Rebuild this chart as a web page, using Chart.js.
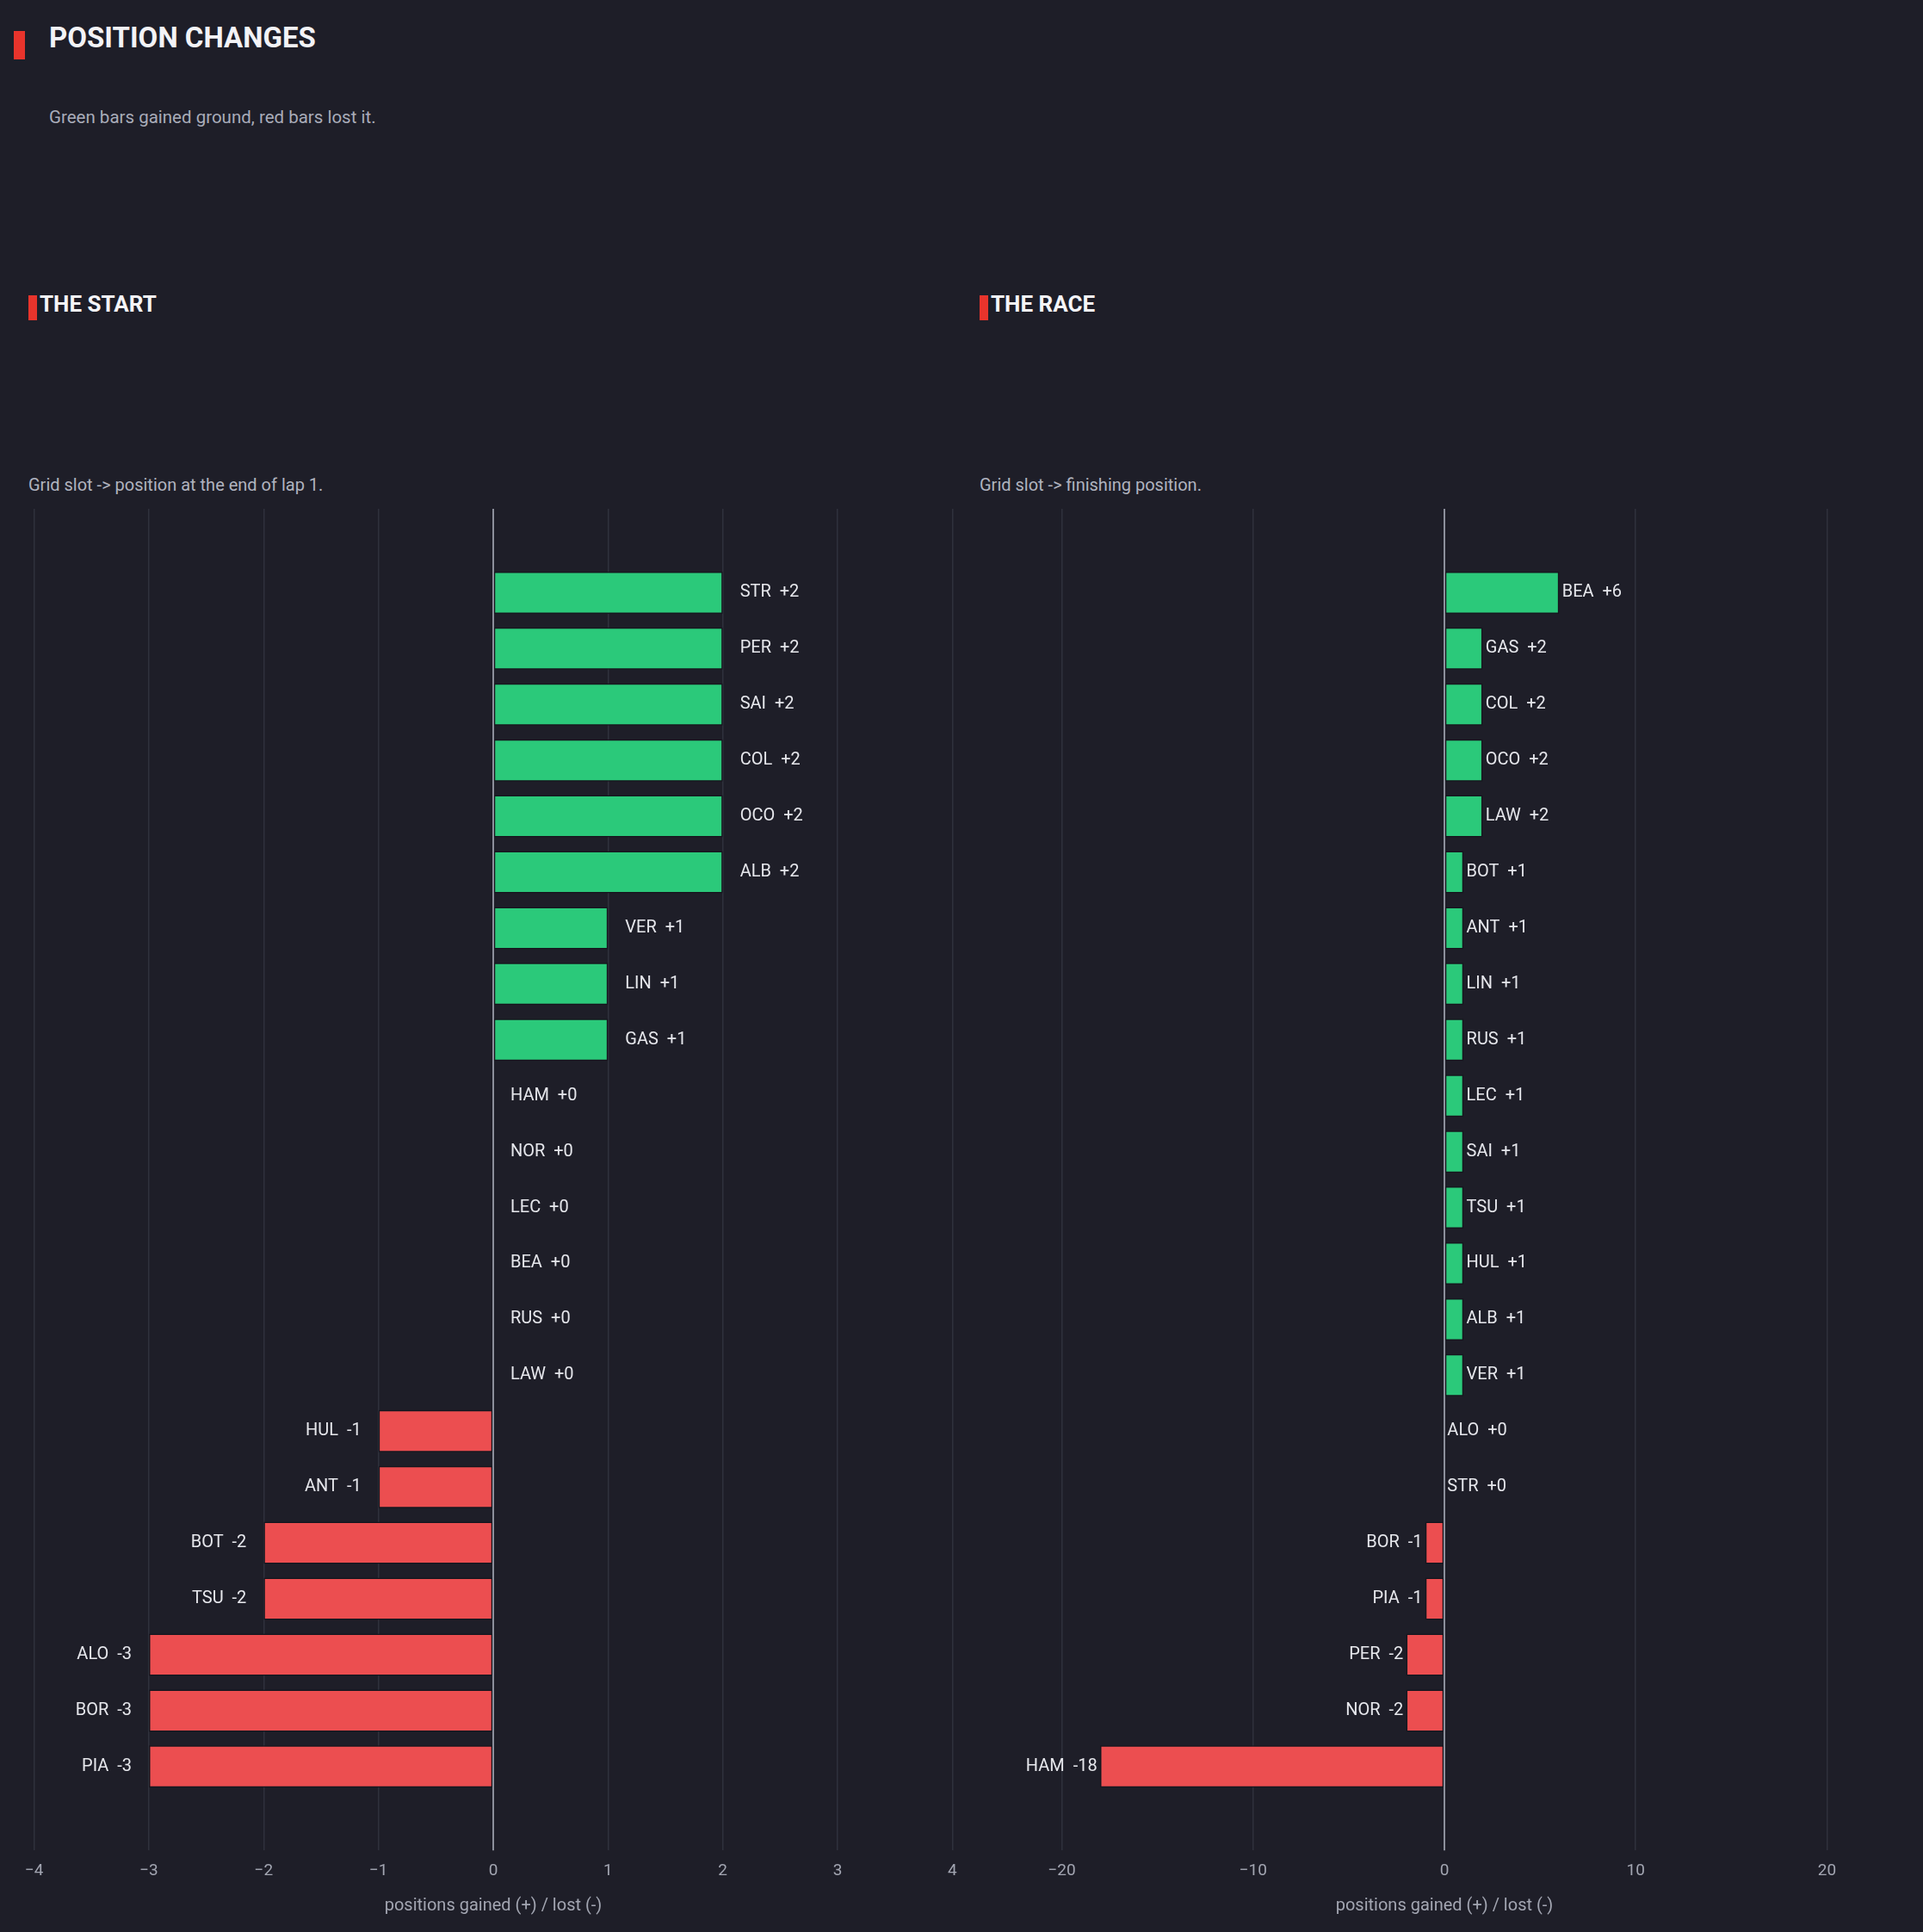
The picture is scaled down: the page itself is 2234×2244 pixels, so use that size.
<!DOCTYPE html>
<html>
<head>
<meta charset="utf-8">
<script src="https://cdn.jsdelivr.net/npm/chart.js@4.4.1/dist/chart.umd.min.js"></script>
<style>
  html, body { margin: 0; padding: 0; }
  body {
    width: 2234px; height: 2244px; overflow: hidden; position: relative;
    background: #1e1e28; font-family: Roboto, "Noto Sans", sans-serif;
  }
  .abs { position: absolute; white-space: nowrap; }
  .mark { position: absolute; background: #e8342c; }
  #title { left: 57px; top: 27px; font-size: 33px; line-height: 33px; font-weight: 700; color: #f3f3f6; }
  #subtitle { left: 57px; top: 126px; font-size: 20.5px; line-height: 20px; color: #a9acb9; }
  .head { font-size: 26px; line-height: 26px; font-weight: 700; color: #f5f5f8; top: 340px; }
  .note { font-size: 20px; line-height: 20px; color: #b0b3bf; top: 553px; }
  .box { position: absolute; top: 591px; width: 1136px; height: 1637px; }
</style>
</head>
<body>
<div class="mark" style="left:16px;top:36px;width:13px;height:33px"></div>
<div id="title" class="abs">POSITION CHANGES</div>
<div id="subtitle" class="abs">Green bars gained ground, red bars lost it.</div>

<div class="mark" style="left:33px;top:343px;width:10px;height:29px"></div>
<div class="abs head" style="left:46px">THE START</div>
<div class="abs note" style="left:33px">Grid slot -&gt; position at the end of lap 1.</div>

<div class="mark" style="left:1138px;top:343px;width:10px;height:29px"></div>
<div class="abs head" style="left:1151px">THE RACE</div>
<div class="abs note" style="left:1138px">Grid slot -&gt; finishing position.</div>

<div class="box" style="left:5px"><canvas id="startChart"></canvas></div>
<div class="box" style="left:1110px"><canvas id="raceChart"></canvas></div>

<script>
// --- dữ liệu: lap 1 ---
const startDrivers = ["STR", "PER", "SAI", "COL", "OCO", "ALB", "VER", "LIN", "GAS", "HAM", "NOR",
  "LEC", "BEA", "RUS", "LAW", "HUL", "ANT", "BOT", "TSU", "ALO", "BOR", "PIA"];
const startChanges = [2, 2, 2, 2, 2, 2, 1, 1, 1, 0, 0, 0, 0, 0, 0, -1, -1, -2, -2, -3, -3, -3];
const startTicks = [-4, -3, -2, -1, 0, 1, 2, 3, 4];

// --- dữ liệu: cả cuộc đua ---
const raceDrivers = ["BEA", "GAS", "COL", "OCO", "LAW", "BOT", "ANT", "LIN", "RUS", "LEC", "SAI",
  "TSU", "HUL", "ALB", "VER", "ALO", "STR", "BOR", "PIA", "PER", "NOR", "HAM"];
const raceChanges = [6, 2, 2, 2, 2, 1, 1, 1, 1, 1, 1, 1, 1, 1, 1, 0, 0, -1, -1, -2, -2, -18];
const raceTicks = [-20, -10, 0, 10, 20];

const GREEN = "#2bc97a";
const RED = "#ec4e50";
const GRID = "#2f313c";
const ZERO = "#8c8f9b";
const TICK = "#a3a6b2";
const FONT = "Roboto, 'Noto Sans', sans-serif";

// nhãn "STR  +2" cạnh mỗi thanh + đường 0 vẽ đè lên
const barLabels = {
  id: "barLabels",
  afterDatasetsDraw(chart, args, opts) {
    const ctx = chart.ctx;
    const xs = chart.scales.x;
    const area = chart.chartArea;
    const zx = xs.getPixelForValue(0);
    ctx.save();
    ctx.strokeStyle = ZERO;
    ctx.lineWidth = 2;
    ctx.beginPath();
    ctx.moveTo(zx, area.top);
    ctx.lineTo(zx, area.bottom);
    ctx.stroke();

    ctx.font = "20px " + FONT;
    ctx.fillStyle = "#e6e7ec";
    ctx.textBaseline = "middle";
    const meta = chart.getDatasetMeta(0);
    meta.data.forEach((bar, i) => {
      const v = opts.values[i];
      const txt = opts.names[i] + "  " + (v >= 0 ? "+" + v : String(v));
      if (v >= 0) {
        ctx.textAlign = "left";
        ctx.fillText(txt, xs.getPixelForValue(v + 0.15), bar.y);
      } else {
        ctx.textAlign = "right";
        ctx.fillText(txt, xs.getPixelForValue(v - 0.15), bar.y);
      }
    });
    ctx.restore();
  }
};

function makeChart(id, names, values, tickVals) {
  const lim = Math.max(...values.map(v => Math.abs(v))) * 1.35;
  const ctx = document.getElementById(id).getContext("2d");
  return new Chart(ctx, {
    type: "bar",
    data: {
      datasets: [{
        data: values.map((v, i) => ({ x: v, y: i })),
        backgroundColor: values.map(v => v >= 0 ? GREEN : RED),
        borderColor: "#16161e",
        borderWidth: 1.5,
        borderSkipped: false,
        barPercentage: 0.755,
        categoryPercentage: 1
      }]
    },
    options: {
      indexAxis: "y",
      responsive: true,
      maintainAspectRatio: false,
      animation: false,
      layout: { padding: { left: 28, right: 28, top: 0, bottom: 0 } },
      plugins: {
        legend: { display: false },
        tooltip: { enabled: false },
        barLabels: { names: names, values: values }
      },
      scales: {
        y: {
          type: "linear",
          min: -1.5,
          max: names.length + 0.5,
          reverse: true,
          offset: false,
          grid: { offset: false },
          display: false
        },
        x: {
          type: "linear",
          min: -lim,
          max: lim,
          afterBuildTicks: scale => { scale.ticks = tickVals.map(v => ({ value: v })); },
          border: { display: false },
          grid: {
            drawTicks: false,
            color: c => c.tick && c.tick.value === 0 ? ZERO : GRID,
            lineWidth: 1.5
          },
          ticks: {
            color: TICK,
            padding: 13,
            font: { family: FONT, size: 19 },
            callback: v => (v < 0 ? "\u2212" + Math.abs(v) : String(v))
          },
          title: {
            display: true,
            text: "positions gained (+) / lost (-)",
            color: TICK,
            font: { family: FONT, size: 20 },
            padding: { top: 4, bottom: 2 }
          }
        }
      }
    },
    plugins: [barLabels]
  });
}

makeChart("startChart", startDrivers, startChanges, startTicks);
makeChart("raceChart", raceDrivers, raceChanges, raceTicks);
</script>
</body>
</html>
